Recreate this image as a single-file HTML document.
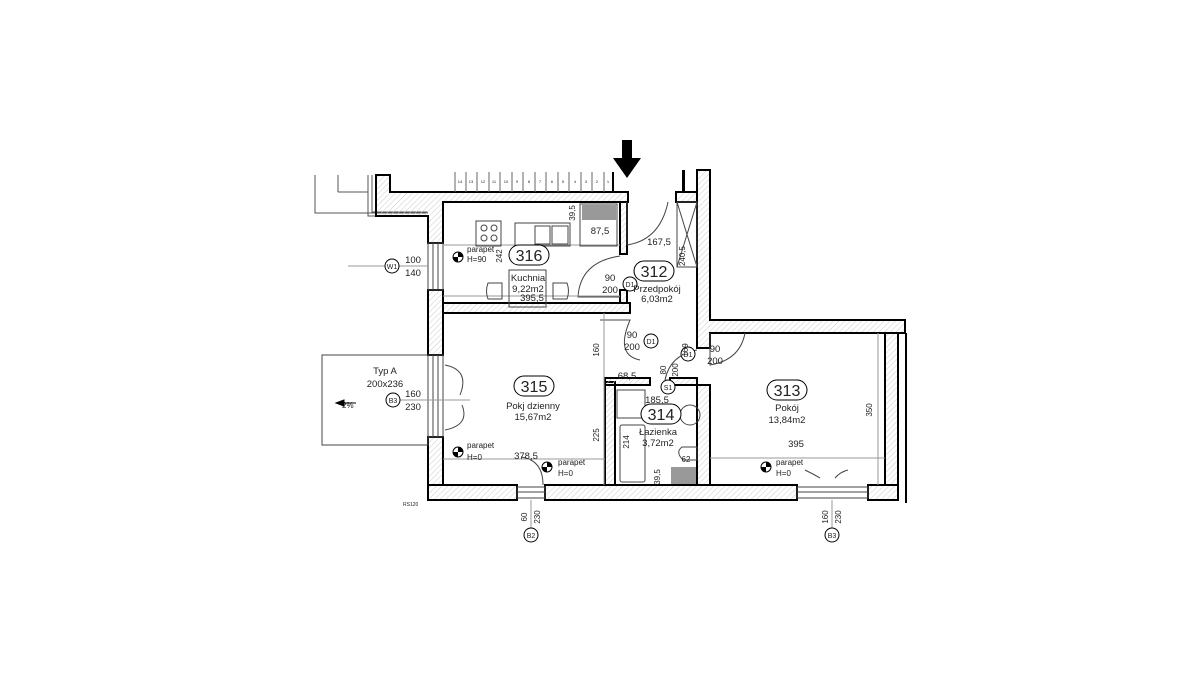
<!DOCTYPE html>
<html><head><meta charset="utf-8"><style>
html,body{margin:0;padding:0;background:#fff;width:1200px;height:675px;overflow:hidden}
svg{display:block}
text{font-family:"Liberation Sans",sans-serif;fill:#222}
</style></head><body>
<svg width="1200" height="675" viewBox="0 0 1200 675" xmlns="http://www.w3.org/2000/svg">
<defs><pattern id="h" width="4" height="4" patternUnits="userSpaceOnUse" patternTransform="rotate(45)"><line x1="0" y1="0" x2="0" y2="4" stroke="#ccc" stroke-width="1"/></pattern></defs>
<g fill="none" stroke="#555" stroke-width="1">
<polyline points="315,175 315,213 428,213"/>
<polyline points="338,175 338,192"/>
<polyline points="338,192 368,192"/>
<polyline points="368,175 368,216 428,216"/>
<polyline points="372,175 372,212 428,212"/>
</g>
<g fill="url(#h)" stroke="#000" stroke-width="2">
<path d="M390,175 L390,192 L628,192 L628,202 L443,202 L443,243 L428,243 L428,216 L376,216 L376,175 Z" fill="url(#h)"/>
<rect x="428" y="290" width="15" height="65"/>
<rect x="428" y="437" width="15" height="48"/>
<path d="M428,485 L517,485 L517,500 L428,500 Z"/>
<path d="M545,485 L797,485 L797,500 L545,500 Z"/>
<path d="M868,485 L898,485 L898,500 L868,500 Z"/>
<path d="M443,303 L630,303 L630,313 L443,313 Z"/>
<rect x="620" y="202" width="7" height="52"/>
<rect x="620" y="290" width="7" height="13"/>
<path d="M697,170 L710,170 L710,320 L905,320 L905,333 L710,333 L710,348 L697,348 Z"/>
<rect x="697" y="385" width="13" height="100"/>
<rect x="885" y="333" width="13" height="152"/>
<rect x="605" y="382" width="10" height="103"/>
<rect x="605" y="378" width="45" height="7"/>
<rect x="670" y="378" width="27" height="7"/>
<rect x="676" y="192" width="21" height="10"/>
</g>
<rect x="905" y="333" width="2" height="170" fill="#000"/>
<rect x="682" y="170" width="3" height="22" fill="#000"/>
<g stroke="#666" stroke-width="1">
<line x1="455" y1="172" x2="455" y2="192"/><line x1="466" y1="172" x2="466" y2="192"/><line x1="477" y1="172" x2="477" y2="192"/><line x1="489" y1="172" x2="489" y2="192"/><line x1="500" y1="172" x2="500" y2="192"/><line x1="512" y1="172" x2="512" y2="192"/><line x1="523" y1="172" x2="523" y2="192"/><line x1="535" y1="172" x2="535" y2="192"/><line x1="546" y1="172" x2="546" y2="192"/><line x1="558" y1="172" x2="558" y2="192"/><line x1="569" y1="172" x2="569" y2="192"/><line x1="581" y1="172" x2="581" y2="192"/><line x1="592" y1="172" x2="592" y2="192"/><line x1="604" y1="172" x2="604" y2="192"/><line x1="613" y1="172" x2="613" y2="192" stroke="#000" stroke-width="2"/>
</g>
<g font-size="4" text-anchor="middle"><text x="460" y="183">14</text><text x="471" y="183">13</text><text x="483" y="183">12</text><text x="494" y="183">11</text><text x="506" y="183">10</text><text x="517" y="183">9</text><text x="529" y="183">8</text><text x="540" y="183">7</text><text x="552" y="183">6</text><text x="563" y="183">5</text><text x="575" y="183">4</text><text x="586" y="183">3</text><text x="597" y="183">2</text><text x="608" y="183">1</text></g>
<path d="M622,140 L632,140 L632,158 L641,158 L627,178 L613,158 L622,158 Z" fill="#000"/>
<g fill="none" stroke="#444" stroke-width="1">
<rect x="428" y="243" width="15" height="47"/><line x1="433" y1="243" x2="433" y2="290"/><line x1="438" y1="243" x2="438" y2="290"/>
<rect x="428" y="355" width="15" height="82"/><line x1="433" y1="355" x2="433" y2="437"/><line x1="438" y1="355" x2="438" y2="437"/>
<rect x="322" y="355" width="106" height="90"/>
<rect x="517" y="487" width="28" height="11"/><line x1="517" y1="492" x2="545" y2="492"/>
<rect x="797" y="487" width="71" height="11"/><line x1="797" y1="492" x2="868" y2="492"/>
<path d="M627,245 L627,202 M627,245 Q660,240 668,202"/>
<path d="M620,297 L578,297 Q580,262 620,256"/>
<path d="M600,320 L630,320 Q615,355 640,360"/>
<path d="M710,333 L710,365 Q740,360 745,333" />
<path d="M665,380 Q670,355 697,350"/>
<path d="M543,485 Q543,460 521,457"/>
<path d="M445,365 Q470,370 460,395 M445,430 Q470,425 462,405"/>
<path d="M805,470 Q815,475 820,478 M848,470 Q840,472 835,478"/>
<rect x="677" y="202" width="20" height="65"/><line x1="677" y1="202" x2="697" y2="267"/><line x1="697" y1="202" x2="677" y2="267"/>
<line x1="443" y1="296" x2="620" y2="296" stroke="#999"/>
<line x1="443" y1="245" x2="620" y2="245" stroke="#999"/>
<line x1="443" y1="459" x2="605" y2="459" stroke="#999"/>
<line x1="604" y1="313" x2="604" y2="485" stroke="#999"/>
<line x1="710" y1="458" x2="885" y2="458" stroke="#999"/>
<line x1="878" y1="333" x2="878" y2="485" stroke="#999"/>
<line x1="348" y1="266" x2="428" y2="266" stroke="#999"/>
<line x1="400" y1="400" x2="470" y2="400" stroke="#999"/>
<line x1="531" y1="500" x2="531" y2="528" stroke="#999"/>
<line x1="832" y1="500" x2="832" y2="528" stroke="#999"/>
<rect x="476" y="221" width="25" height="25"/>
<circle cx="484" cy="228" r="3"/><circle cx="494" cy="228" r="3"/><circle cx="484" cy="238" r="3"/><circle cx="494" cy="238" r="3"/>
<rect x="515" y="223" width="55" height="23"/><rect x="535" y="226" width="15" height="18"/><rect x="552" y="226" width="16" height="18"/>
<rect x="580" y="204" width="37" height="42"/>
<rect x="509" y="270" width="37" height="37"/>
<path d="M488,283 h14 v16 h-14 Q485,291 488,283 Z"/><path d="M553,283 h14 Q570,291 567,299 h-14 Z"/>
<rect x="620" y="425" width="25" height="57" rx="2"/><rect x="617" y="390" width="28" height="28"/>
<circle cx="690" cy="415" r="10"/><path d="M682,447 Q675,452 683,460 L697,460 L697,447 Z"/>
</g>
<rect x="582" y="205" width="34" height="15" fill="#999"/>
<rect x="671" y="467" width="25" height="17" fill="#999"/>
<g fill="#fff" stroke="#000" stroke-width="1">
<rect x="509" y="245" width="40" height="20" rx="10"/><rect x="634" y="261" width="40" height="20" rx="10"/>
<rect x="514" y="376" width="40" height="20" rx="10"/><rect x="641" y="404" width="40" height="20" rx="10"/>
<rect x="767" y="380" width="40" height="20" rx="10"/>
<circle cx="392" cy="266" r="7"/><circle cx="393" cy="400" r="7"/><circle cx="531" cy="535" r="7"/><circle cx="832" cy="535" r="7"/>
<circle cx="630" cy="284" r="7"/><circle cx="651" cy="341" r="7"/><circle cx="688" cy="354" r="7"/><circle cx="668" cy="387" r="7"/>
</g>
<g text-anchor="middle" font-size="16"><text x="529" y="261">316</text><text x="654" y="277">312</text><text x="534" y="392">315</text><text x="661" y="420">314</text><text x="787" y="396">313</text></g>
<g text-anchor="middle" font-size="9.5">
<text x="528" y="281">Kuchnia</text><text x="528" y="292">9,22m2</text><text x="532" y="301">395,5</text>
<text x="657" y="292">Przedpokój</text><text x="657" y="302">6,03m2</text>
<text x="533" y="409">Pokj dzienny</text><text x="533" y="420">15,67m2</text>
<text x="658" y="435">Łazienka</text><text x="658" y="446">3,72m2</text>
<text x="787" y="411">Pokój</text><text x="787" y="423">13,84m2</text>
<text x="385" y="374">Typ A</text><text x="385" y="387">200x236</text>
<text x="600" y="234">87,5</text><text x="659" y="245">167,5</text>
<text x="413" y="263">100</text><text x="413" y="276">140</text>
<text x="413" y="397">160</text><text x="413" y="410">230</text>
<text x="610" y="281">90</text><text x="610" y="293">200</text>
<text x="632" y="338">90</text><text x="632" y="350">200</text>
<text x="715" y="352">90</text><text x="715" y="364">200</text>
<text x="526" y="459">378,5</text><text x="796" y="447">395</text>
<text x="627" y="379">68,5</text><text x="657" y="403">185,5</text>
</g>
<g font-size="7" text-anchor="middle"><text x="392" y="269">W1</text><text x="393" y="403">B3</text><text x="531" y="538">B2</text><text x="832" y="538">B3</text><text x="630" y="287">D1</text><text x="651" y="344">D1</text><text x="688" y="357">D1</text><text x="668" y="390">S1</text></g>
<g font-size="8"><text x="467" y="252">parapet</text><text x="467" y="262">H=90</text><text x="467" y="448">parapet</text><text x="467" y="460">H=0</text><text x="558" y="465">parapet</text><text x="558" y="476">H=0</text><text x="776" y="465">parapet</text><text x="776" y="476">H=0</text><text x="342" y="408">2%</text><text x="403" y="506" font-size="5">RS120</text></g>
<g font-size="8" text-anchor="middle">
<text transform="translate(502,256) rotate(-90)">242</text>
<text transform="translate(575,213) rotate(-90)">39,5</text>
<text transform="translate(685,256) rotate(-90)">240,5</text>
<text transform="translate(599,350) rotate(-90)">160</text>
<text transform="translate(599,435) rotate(-90)">225</text>
<text transform="translate(666,370) rotate(-90)">80</text><text transform="translate(678,370) rotate(-90)">200</text>
<text transform="translate(688,350) rotate(-90)">169</text>
<text transform="translate(629,442) rotate(-90)">214</text>
<text transform="translate(660,477) rotate(-90)">39,5</text>
<text transform="translate(872,410) rotate(-90)">350</text>
<text transform="translate(527,517) rotate(-90)">60</text><text transform="translate(540,517) rotate(-90)">230</text>
<text transform="translate(828,517) rotate(-90)">160</text><text transform="translate(841,517) rotate(-90)">230</text>
<text x="686" y="462" font-size="8">62</text>
</g>
<path d="M336,403 l8,-3 v6 z M344,403 h12" stroke="#000" fill="#000"/>
<g>
<circle cx="458" cy="257" r="5" fill="#fff" stroke="#000"/><path d="M458,252 A5,5 0 0 1 463,257 L458,257Z M458,262 A5,5 0 0 1 453,257 L458,257Z" fill="#000"/>
<circle cx="458" cy="452" r="5" fill="#fff" stroke="#000"/><path d="M458,447 A5,5 0 0 1 463,452 L458,452Z M458,457 A5,5 0 0 1 453,452 L458,452Z" fill="#000"/>
<circle cx="547" cy="467" r="5" fill="#fff" stroke="#000"/><path d="M547,462 A5,5 0 0 1 552,467 L547,467Z M547,472 A5,5 0 0 1 542,467 L547,467Z" fill="#000"/>
<circle cx="766" cy="467" r="5" fill="#fff" stroke="#000"/><path d="M766,462 A5,5 0 0 1 771,467 L766,467Z M766,472 A5,5 0 0 1 761,467 L766,467Z" fill="#000"/>
</g>
</svg>
</body></html>
